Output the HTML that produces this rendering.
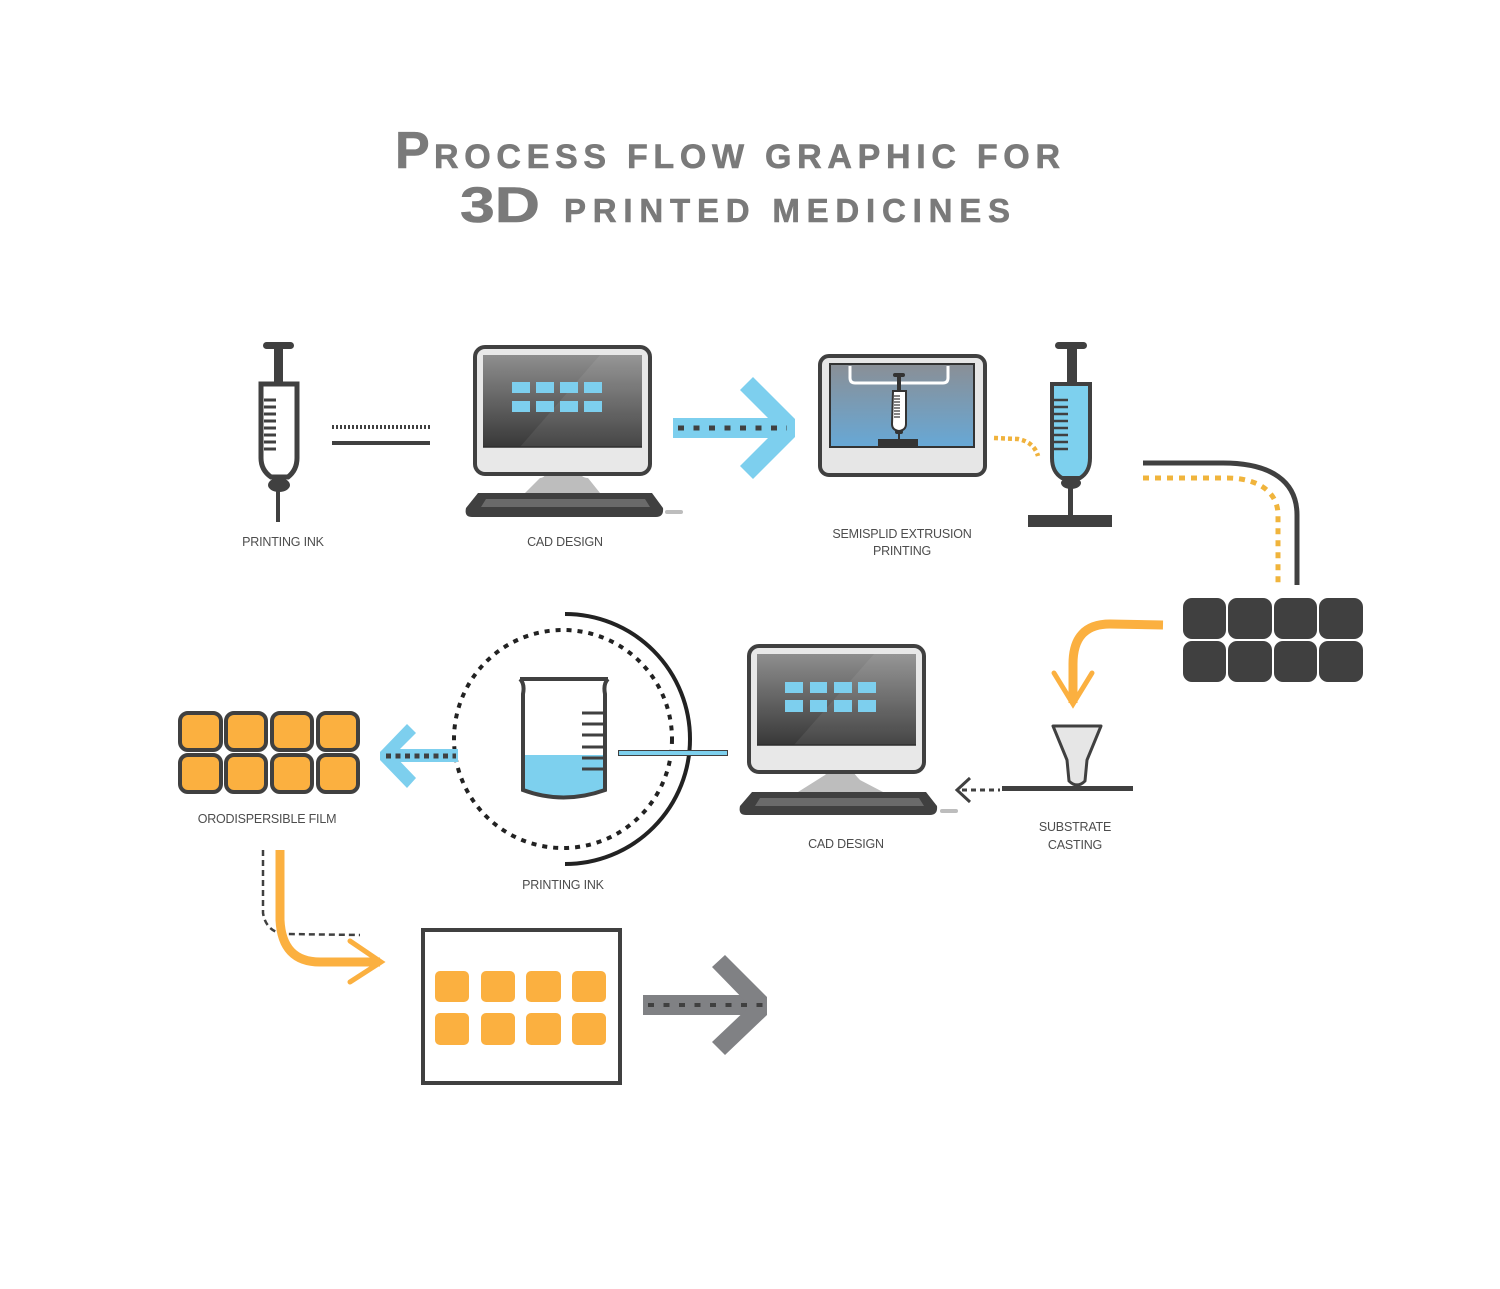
<!DOCTYPE html>
<html><head><meta charset="utf-8"><style>
html,body{margin:0;padding:0;background:#fff;}
svg{display:block;}
text{font-family:"Liberation Sans",sans-serif;}
.lbl{font-size:12.5px;fill:#4d4d4d;text-anchor:middle;letter-spacing:-0.2px;}
</style></head><body>
<svg width="1500" height="1289" viewBox="0 0 1500 1289" xmlns="http://www.w3.org/2000/svg">
<defs>
<linearGradient id="scr" x1="0" y1="0" x2="0" y2="1"><stop offset="0" stop-color="#8e8e8e"/><stop offset="1" stop-color="#383838"/></linearGradient>
<linearGradient id="prn" x1="0" y1="0" x2="0" y2="1"><stop offset="0" stop-color="#8a8f96"/><stop offset="1" stop-color="#67a8d6"/></linearGradient>
</defs>
<rect width="1500" height="1289" fill="#fff"/>

<!-- Title -->
<g fill="#7a7a7a" font-weight="bold" stroke="#7a7a7a" stroke-width="0.6">
<text x="395" y="168" font-size="52">P</text>
<text x="434" y="168" font-size="34" textLength="626" lengthAdjust="spacing">ROCESS FLOW GRAPHIC FOR</text>
<text x="460" y="222" font-size="50" textLength="80" lengthAdjust="spacingAndGlyphs">3D</text>
<text x="564" y="222" font-size="33" textLength="446" lengthAdjust="spacing">PRINTED MEDICINES</text>
</g>

<!-- Syringe 1 -->
<g stroke="#404040" fill="none">
<rect x="263" y="342" width="31" height="7" rx="3.5" fill="#404040" stroke="none"/>
<rect x="274" y="347" width="9" height="36" fill="#404040" stroke="none"/>
<path d="M261,384 L297,384 L297,458 Q297,470 288,477 L271,477 Q261,470 261,458 Z" stroke-width="5" fill="#fff"/>
<g stroke-width="3">
<line x1="264" y1="400" x2="276" y2="400"/><line x1="264" y1="407" x2="276" y2="407"/><line x1="264" y1="414" x2="276" y2="414"/><line x1="264" y1="421" x2="276" y2="421"/><line x1="264" y1="428" x2="276" y2="428"/><line x1="264" y1="435" x2="276" y2="435"/><line x1="264" y1="442" x2="276" y2="442"/><line x1="264" y1="449" x2="276" y2="449"/>
</g>
<ellipse cx="279" cy="485" rx="11" ry="7" fill="#404040" stroke="none"/>
<rect x="276" y="490" width="4" height="32" fill="#404040" stroke="none"/>
</g>
<line x1="332" y1="427" x2="430" y2="427" stroke="#404040" stroke-width="4" stroke-dasharray="2 2"/>
<line x1="332" y1="443" x2="430" y2="443" stroke="#404040" stroke-width="4"/>

<!-- Monitor 1 -->
<g>
<path d="M540,478 Q545,478 548,470 L578,470 Q581,478 588,478 L600,493 L525,493 Z" fill="#bdbdbd"/>
<rect x="475" y="347" width="175" height="127" rx="10" fill="#e8e8e8" stroke="#404040" stroke-width="4"/>
<rect x="483" y="355" width="159" height="92" fill="url(#scr)"/>
<polygon points="600,355 642,355 642,447 520,447" fill="#fff" opacity="0.07"/>
<line x1="483" y1="447" x2="642" y2="447" stroke="#2e2e2e" stroke-width="1.5"/>
<g fill="#7dcfee">
<rect x="512" y="382" width="18" height="11"/><rect x="536" y="382" width="18" height="11"/><rect x="560" y="382" width="18" height="11"/><rect x="584" y="382" width="18" height="11"/>
<rect x="512" y="401" width="18" height="11"/><rect x="536" y="401" width="18" height="11"/><rect x="560" y="401" width="18" height="11"/><rect x="584" y="401" width="18" height="11"/>
</g>
<path d="M478,493 L652,493 L663,508 Q664,517 656,517 L472,517 Q464,517 466,508 Z" fill="#404040"/>
<path d="M486,499 L645,499 L650,507 L481,507 Z" fill="#6a6a6a"/>
<rect x="665" y="510" width="18" height="4" rx="2" fill="#bdbdbd"/>
</g>
<text class="lbl" x="283" y="546">PRINTING INK</text>
<text class="lbl" x="565" y="546">CAD DESIGN</text>

<!-- Blue arrow 1 -->
<rect x="673" y="418" width="108" height="20" fill="#7dcfee"/>
<polygon points="740,390 753,377 795,419 795,437 753,479 740,466 778,428" fill="#7dcfee"/>
<line x1="678" y1="428" x2="787" y2="428" stroke="#404040" stroke-width="5" stroke-dasharray="6 9.5"/>

<!-- 3D printer -->
<g>
<rect x="820" y="356" width="165" height="119" rx="9" fill="#e6e6e6" stroke="#404040" stroke-width="4"/>
<rect x="830" y="364" width="144" height="83" fill="url(#prn)" stroke="#333" stroke-width="2"/>
<path d="M850,366 L850,378 Q850,383 855,383 L943,383 Q948,383 948,378 L948,366" fill="none" stroke="#fff" stroke-width="3"/>
<rect x="893" y="373" width="12" height="4" rx="2" fill="#333"/>
<rect x="897" y="376" width="4" height="15" fill="#333"/>
<path d="M893,391 L906,391 L906,424 Q906,430 899,431 Q892,430 892,424 Z" fill="#fff" stroke="#333" stroke-width="2"/>
<g stroke="#333" stroke-width="1.2"><line x1="894" y1="396" x2="900" y2="396"/><line x1="894" y1="399" x2="900" y2="399"/><line x1="894" y1="402" x2="900" y2="402"/><line x1="894" y1="405" x2="900" y2="405"/><line x1="894" y1="408" x2="900" y2="408"/><line x1="894" y1="411" x2="900" y2="411"/><line x1="894" y1="414" x2="900" y2="414"/><line x1="894" y1="417" x2="900" y2="417"/></g>
<rect x="895" y="430" width="8" height="4" rx="2" fill="#333"/>
<rect x="898" y="433" width="2" height="8" fill="#333"/>
<rect x="878" y="439" width="40" height="7" fill="#333"/>
</g>
<path d="M994,438 L1018,439 Q1034,442 1038,456" fill="none" stroke="#f0b23c" stroke-width="4.5" stroke-dasharray="4 3"/>

<!-- Syringe 2 -->
<g>
<rect x="1055" y="342" width="32" height="7" rx="3.5" fill="#404040"/>
<rect x="1067" y="347" width="10" height="37" fill="#404040"/>
<path d="M1052,384 L1090,384 L1090,458 Q1090,472 1080,478 L1062,478 Q1052,472 1052,458 Z" fill="#7dd0ee" stroke="#404040" stroke-width="4"/>
<g stroke="#404040" stroke-width="2.5">
<line x1="1054" y1="400" x2="1068" y2="400"/><line x1="1054" y1="407" x2="1068" y2="407"/><line x1="1054" y1="414" x2="1068" y2="414"/><line x1="1054" y1="421" x2="1068" y2="421"/><line x1="1054" y1="428" x2="1068" y2="428"/><line x1="1054" y1="435" x2="1068" y2="435"/><line x1="1054" y1="442" x2="1068" y2="442"/><line x1="1054" y1="449" x2="1068" y2="449"/>
</g>
<ellipse cx="1071" cy="483" rx="10" ry="6" fill="#404040"/>
<rect x="1068" y="487" width="5" height="30" fill="#404040"/>
<rect x="1028" y="515" width="84" height="12" fill="#404040"/>
</g>
<text class="lbl" x="902" y="538">SEMISPLID EXTRUSION</text>
<text class="lbl" x="902" y="555">PRINTING</text>

<!-- Right curves -->
<path d="M1143,463 L1223,463 C1272,463 1297,482 1297,515 L1297,585" fill="none" stroke="#404040" stroke-width="5"/>
<path d="M1143,478 L1227,478 C1258,478 1278,492 1278,515 L1278,585" fill="none" stroke="#f0b43c" stroke-width="5" stroke-dasharray="6 6"/>

<!-- Dark grid -->
<g fill="#404040">
<rect x="1183" y="598" width="43" height="41" rx="9"/><rect x="1228" y="598" width="44" height="41" rx="9"/><rect x="1274" y="598" width="43" height="41" rx="9"/><rect x="1319" y="598" width="44" height="41" rx="9"/>
<rect x="1183" y="641" width="43" height="41" rx="9"/><rect x="1228" y="641" width="44" height="41" rx="9"/><rect x="1274" y="641" width="43" height="41" rx="9"/><rect x="1319" y="641" width="44" height="41" rx="9"/>
</g>

<!-- Orange arrow down -->
<path d="M1163,625 L1110,624 Q1073,624 1073,664 L1073,703" fill="none" stroke="#fbb040" stroke-width="9"/>
<polyline points="1054,673 1073,704 1092,673" fill="none" stroke="#fbb040" stroke-width="5" stroke-linecap="round"/>

<!-- Nozzle -->
<path d="M1053,726 L1101,726 L1087,760 L1085,781 Q1077,789 1069,781 L1067,760 Z" fill="#e6e6e6" stroke="#404040" stroke-width="3" stroke-linejoin="round"/>
<rect x="1002" y="786" width="131" height="5" fill="#404040"/>
<text class="lbl" x="1075" y="831">SUBSTRATE</text>
<text class="lbl" x="1075" y="849">CASTING</text>

<!-- small dashed arrow -->
<polyline points="970,778 957,790 970,802" fill="none" stroke="#404040" stroke-width="3"/>
<line x1="962" y1="790" x2="1000" y2="790" stroke="#404040" stroke-width="3" stroke-dasharray="5 4"/>

<!-- Monitor 2 -->
<g>
<path d="M825,775 Q828,772 830,770 L852,770 Q855,775 860,780 L883,792 L798,792 Z" fill="#bdbdbd"/>
<rect x="749" y="646" width="175" height="126" rx="10" fill="#e8e8e8" stroke="#404040" stroke-width="4"/>
<rect x="757" y="654" width="159" height="91" fill="url(#scr)"/>
<polygon points="874,654 916,654 916,745 794,745" fill="#fff" opacity="0.07"/>
<line x1="757" y1="745" x2="916" y2="745" stroke="#2e2e2e" stroke-width="1.5"/>
<g fill="#7dcfee">
<rect x="785" y="682" width="18" height="11"/><rect x="810" y="682" width="17" height="11"/><rect x="834" y="682" width="18" height="11"/><rect x="858" y="682" width="18" height="11"/>
<rect x="785" y="700" width="18" height="12"/><rect x="810" y="700" width="17" height="12"/><rect x="834" y="700" width="18" height="12"/><rect x="858" y="700" width="18" height="12"/>
</g>
<path d="M752,792 L926,792 L937,806 Q938,815 930,815 L746,815 Q738,815 740,806 Z" fill="#404040"/>
<path d="M760,798 L919,798 L924,806 L755,806 Z" fill="#6a6a6a"/>
<rect x="940" y="809" width="18" height="4" rx="2" fill="#bdbdbd"/>
</g>
<text class="lbl" x="846" y="848">CAD DESIGN</text>

<!-- Circle + beaker -->
<circle cx="563" cy="739" r="109" fill="none" stroke="#222" stroke-width="4" stroke-dasharray="5 6"/>
<path d="M565,614 A125,125 0 0 1 565,864" fill="none" stroke="#222" stroke-width="4"/>
<path d="M523,755 L603,755 L603,790 Q563,805 523,790 Z" fill="#7dd0ee"/>
<path d="M520,679 Q525,684 523,694 L523,790 Q563,805 605,790 L605,694 Q603,684 608,679" fill="none" stroke="#404040" stroke-width="4"/>
<line x1="520" y1="679" x2="608" y2="679" stroke="#404040" stroke-width="4"/>
<g stroke="#404040" stroke-width="3">
<line x1="582" y1="713" x2="604" y2="713"/><line x1="582" y1="724" x2="604" y2="724"/><line x1="582" y1="735" x2="604" y2="735"/><line x1="582" y1="747" x2="604" y2="747"/><line x1="582" y1="758" x2="604" y2="758"/><line x1="582" y1="769" x2="604" y2="769"/>
</g>
<rect x="618.5" y="750.5" width="109" height="5" fill="#7dd0ee" stroke="#404040" stroke-width="1"/>
<text class="lbl" x="563" y="889">PRINTING INK</text>

<!-- Left blue arrow -->
<rect x="390" y="749" width="68" height="13" fill="#7dcfee"/>
<polygon points="407,724 416,733 394,755 416,778 407,788 380,760 380,752" fill="#7dcfee"/>
<line x1="386" y1="756" x2="456" y2="756" stroke="#404040" stroke-width="5" stroke-dasharray="5 4.5"/>

<!-- Orange film grid -->
<g fill="#fbb040" stroke="#404040" stroke-width="4">
<rect x="180" y="713" width="41" height="37" rx="8"/><rect x="226" y="713" width="40" height="37" rx="8"/><rect x="272" y="713" width="40" height="37" rx="8"/><rect x="318" y="713" width="40" height="37" rx="8"/>
<rect x="180" y="755" width="41" height="37" rx="8"/><rect x="226" y="755" width="40" height="37" rx="8"/><rect x="272" y="755" width="40" height="37" rx="8"/><rect x="318" y="755" width="40" height="37" rx="8"/>
</g>
<text class="lbl" x="267" y="823">ORODISPERSIBLE FILM</text>

<!-- L arrow -->
<path d="M263,850 L263,913 Q266,932 285,934 L360,935" fill="none" stroke="#404040" stroke-width="2.5" stroke-dasharray="6 4"/>
<path d="M280,850 L280,920 Q282,962 320,962 L380,962" fill="none" stroke="#fbb040" stroke-width="9"/>
<polyline points="350,941 381,962 350,982" fill="none" stroke="#fbb040" stroke-width="5" stroke-linecap="round"/>

<!-- Box -->
<rect x="423" y="930" width="197" height="153" fill="#fff" stroke="#404040" stroke-width="4"/>
<g fill="#fbb040">
<rect x="435" y="971" width="34" height="31" rx="5"/><rect x="481" y="971" width="34" height="31" rx="5"/><rect x="526" y="971" width="35" height="31" rx="5"/><rect x="572" y="971" width="34" height="31" rx="5"/>
<rect x="435" y="1013" width="34" height="32" rx="5"/><rect x="481" y="1013" width="34" height="32" rx="5"/><rect x="526" y="1013" width="35" height="32" rx="5"/><rect x="572" y="1013" width="34" height="32" rx="5"/>
</g>

<!-- Gray arrow -->
<rect x="643" y="995" width="112" height="20" fill="#808184"/>
<polygon points="712,967 725,955 767,997 767,1015 725,1055 712,1042 750,1006" fill="#808184"/>
<line x1="648" y1="1005" x2="764" y2="1005" stroke="#404040" stroke-width="4" stroke-dasharray="6 9.5"/>
</svg>
</body></html>
